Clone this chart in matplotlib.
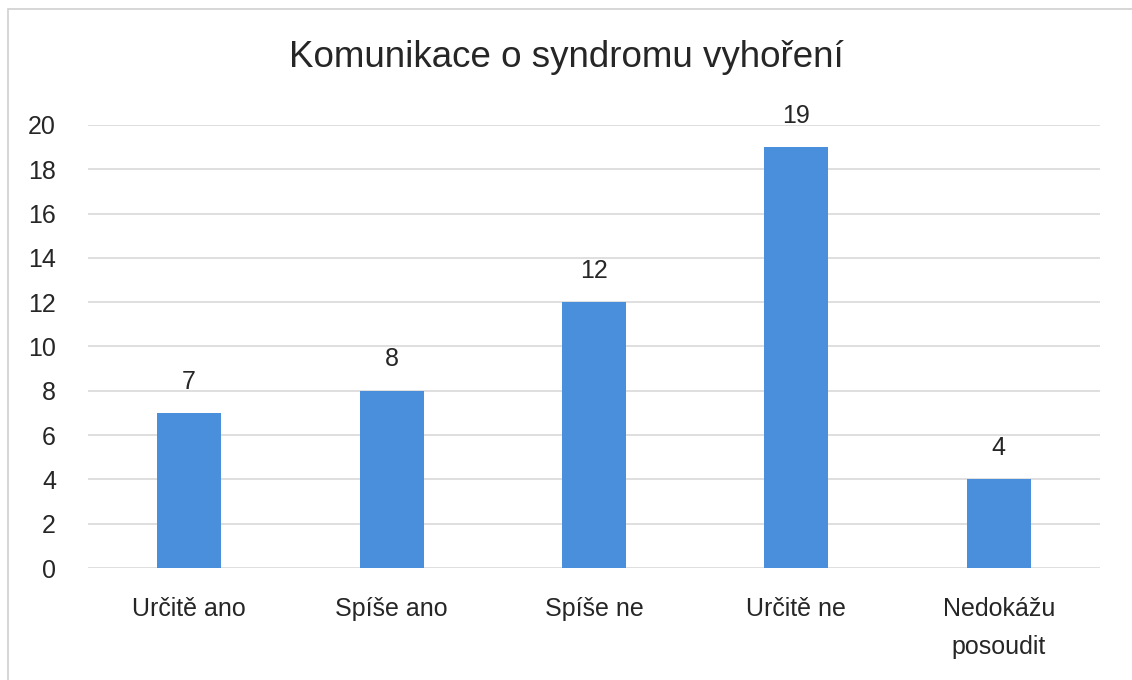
import matplotlib
matplotlib.use('Agg')
import matplotlib.pyplot as plt
from matplotlib.patches import Rectangle

plt.rcParams['font.family'] = ['Liberation Sans', 'DejaVu Sans']

# Data
categories = ['Určitě ano', 'Spíše ano', 'Spíše ne', 'Určitě ne', 'Nedokážu\nposoudit']
values = [7, 8, 12, 19, 4]
yticks = [0, 2, 4, 6, 8, 10, 12, 14, 16, 18, 20]

bar_color = '#4a8fdb'
text_color = '#262626'

fig = plt.figure(figsize=(11.32, 6.8), dpi=100)
ax = fig.add_axes([0.0777, 0.1647, 0.894, 0.6515])

x = list(range(len(categories)))
ax.bar(x, values, width=0.316, color=bar_color, zorder=3)
for xi, v in zip(x, values):
    ax.annotate(str(v), (xi, v), xytext=(0, 14), textcoords='offset points',
                ha='center', va='bottom', fontsize=18, color=text_color)

ax.set_xlim(-0.5, len(categories) - 0.5)
ax.set_ylim(0, 20)
ax.set_yticks(yticks)
ax.set_xticks(x)
ax.set_xticklabels(categories, fontsize=18, color=text_color, linespacing=1.75)
ax.tick_params(axis='y', labelsize=18, labelcolor=text_color, length=0, pad=23)
ax.tick_params(axis='x', length=0, pad=21)
ax.grid(axis='y', color='#d9d9d9', linewidth=1.2, zorder=0)
for s in ax.spines.values():
    s.set_visible(False)

fig.text(0.5, 0.915, 'Komunikace o syndromu vyhoření', ha='center', va='center',
         fontsize=26.5, color=text_color)

# chart border
fig.patches.append(Rectangle((8 / 1132, -0.01), 1.02, 1 - 9 / 680 + 0.01,
                             transform=fig.transFigure, fill=False,
                             edgecolor='#d0d0d0', linewidth=1.2))

fig.savefig('out.png', dpi=100)
